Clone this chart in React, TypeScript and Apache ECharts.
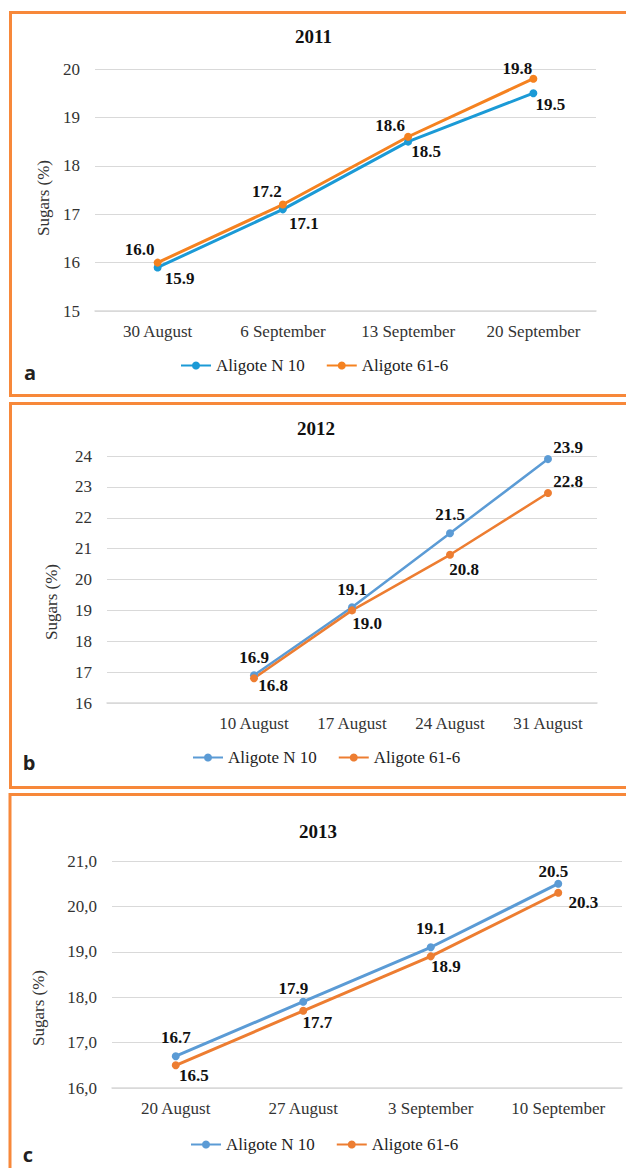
import React, { useEffect, useRef } from "react";
import * as echarts from "echarts";

// ---- data ----
const catsA = ["30 August", "6 September", "13 September", "20 September"];
const n10A = [15.9, 17.1, 18.5, 19.5];
const s616A = [16.0, 17.2, 18.6, 19.8];

const catsB = ["", "10 August", "17 August", "24 August", "31 August"];
const n10B = [null, 16.9, 19.1, 21.5, 23.9];
const s616B = [null, 16.8, 19.0, 20.8, 22.8];

const catsC = ["20 August", "27 August", "3 September", "10 September"];
const n10C = [16.7, 17.9, 19.1, 20.5];
const s616C = [16.5, 17.7, 18.9, 20.3];

const titles = ["2011", "2012", "2013"];
const seriesNames = ["Aligote N 10", "Aligote 61-6"];
const panelLetters = ["a", "b", "c"];
const yName = "Sugars (%)";

// ---- label offsets (style, not data) ----
const offN10A = [[22, 11], [21, 14], [18, 10], [17, 11]];
const offS616A = [[-18, -13], [-16, -13], [-18, -11], [-16, -10]];
const offN10B = [[0, 0], [0, -18], [0, -18], [0, -19], [20, -12]];
const offS616B = [[0, 0], [19, 7], [15, 13], [14, 15], [20, -12]];
const offN10C = [[0, -19], [-10, -13], [0, -19], [-5, -12]];
const offS616C = [[18, 10], [14, 12], [15, 10], [25, 10]];

const SERIF = "Liberation Serif";
const BORDER = "#F7883A";

export default function App() {
  const ref = useRef<HTMLDivElement>(null);
  useEffect(() => {
    if (!ref.current) return;
    const chart = echarts.init(ref.current, null, { renderer: "svg" });

    const colA = ["#1B9AD6", "#F58220"];
    const colBC = ["#5B9BD5", "#ED7D31"];

    const mkData = (vals: (number | null)[], offs: number[][]) =>
      vals.map((v, i) => (v === null ? null : { value: v, label: { offset: offs[i] } }));

    const mkSeries = (
      name: string,
      idx: number,
      vals: (number | null)[],
      offs: number[][],
      color: string,
      lw: number
    ) => ({
      type: "line",
      name,
      xAxisIndex: idx,
      yAxisIndex: idx,
      data: mkData(vals, offs),
      symbol: "circle",
      symbolSize: 8,
      lineStyle: { color, width: lw },
      itemStyle: { color },
      label: {
        show: true,
        position: "inside",
        fontFamily: SERIF,
        fontWeight: "bold",
        fontSize: 17,
        color: "#111",
        formatter: (p: any) => Number(p.value).toFixed(1),
      },
      z: 3,
    });

    const xAxisBase = (idx: number, cats: string[]) => ({
      type: "category",
      gridIndex: idx,
      data: cats,
      boundaryGap: true,
      axisLine: { show: true, lineStyle: { color: "#D9D9D9", width: 1.5 } },
      axisTick: { show: false },
      axisLabel: { fontFamily: SERIF, fontSize: 17, color: "#333", margin: 12, interval: 0 },
    });

    const yAxisBase = (idx: number, min: number, max: number, fmt?: (v: number) => string) => ({
      type: "value",
      gridIndex: idx,
      min,
      max,
      interval: 1,
      axisLine: { show: false },
      axisTick: { show: false },
      splitLine: { lineStyle: { color: "#D9D9D9", width: 1.2 } },
      axisLabel: {
        fontFamily: SERIF,
        fontSize: 17,
        color: "#333",
        margin: 15,
        formatter: fmt ? fmt : (v: number) => String(v),
      },
    });

    const mkLegend = (left: number, top: number, cols: string[]) => ({
      left,
      top,
      padding: 0,
      itemWidth: 30,
      itemHeight: 10,
      itemGap: 21,
      selectedMode: false,
      textStyle: { fontFamily: SERIF, fontSize: 17, color: "#222" },
      data: seriesNames.map((n, i) => ({
        name: n,
        itemStyle: { color: cols[i] },
        lineStyle: { color: cols[i] },
      })),
    });

    const titleStyle = { fontFamily: SERIF, fontWeight: "bold", fontSize: 19, color: "#111" };

    const nameText = (x: number, y: number) => ({
      type: "text",
      x,
      y,
      rotation: Math.PI / 2,
      silent: true,
      style: {
        text: yName,
        fontFamily: SERIF,
        fontSize: 17,
        fill: "#333",
        align: "center",
        verticalAlign: "middle",
      },
    });

    const letterText = (x: number, y: number, t: string) => ({
      type: "text",
      x,
      y,
      silent: true,
      style: {
        text: t,
        fontFamily: "Open Sans",
        fontWeight: "bold",
        fontSize: 20,
        fill: "#231f20",
        align: "center",
        verticalAlign: "middle",
      },
    });

    const border = (x: number, y: number, h: number) => ({
      type: "rect",
      silent: true,
      shape: { x, y, width: 700, height: h },
      style: { fill: "none", stroke: BORDER, lineWidth: 3 },
    });

    const option: any = {
      animation: false,
      backgroundColor: "#fff",
      title: [
        { text: titles[0], left: 295, top: 27, padding: 0, textStyle: titleStyle },
        { text: titles[1], left: 297, top: 419, padding: 0, textStyle: titleStyle },
        { text: titles[2], left: 299, top: 822, padding: 0, textStyle: titleStyle },
      ],
      legend: [
        mkLegend(180, 357, colA),
        mkLegend(192, 749, colBC),
        mkLegend(190, 1136, colBC),
      ],
      grid: [
        { left: 95, width: 501, top: 69, height: 242 },
        { left: 107, width: 490, top: 456, height: 247 },
        { left: 112, width: 510, top: 861, height: 227 },
      ],
      xAxis: [xAxisBase(0, catsA), xAxisBase(1, catsB), xAxisBase(2, catsC)],
      yAxis: [
        yAxisBase(0, 15, 20),
        yAxisBase(1, 16, 24),
        yAxisBase(2, 16, 21, (v: number) => v.toFixed(1).replace(".", ",")),
      ],
      series: [
        mkSeries(seriesNames[0], 0, n10A, offN10A, colA[0], 3),
        mkSeries(seriesNames[1], 0, s616A, offS616A, colA[1], 3),
        mkSeries(seriesNames[0], 1, n10B, offN10B, colBC[0], 2.5),
        mkSeries(seriesNames[1], 1, s616B, offS616B, colBC[1], 2.5),
        mkSeries(seriesNames[0], 2, n10C, offN10C, colBC[0], 3),
        mkSeries(seriesNames[1], 2, s616C, offS616C, colBC[1], 3),
      ],
      graphic: [
        border(10.5, 12.5, 383),
        border(10.5, 403.5, 384),
        border(10, 794.5, 500),
        nameText(43, 198),
        nameText(51, 602),
        nameText(38, 1008),
        letterText(30, 372, panelLetters[0]),
        letterText(29, 762, panelLetters[1]),
        letterText(28, 1154, panelLetters[2]),
      ],
    };

    chart.setOption(option);
    return () => chart.dispose();
  }, []);

  return (
    <div
      ref={ref}
      style={{ position: "absolute", left: 0, top: 0, width: 626, height: 1168, background: "#fff" }}
    />
  );
}
